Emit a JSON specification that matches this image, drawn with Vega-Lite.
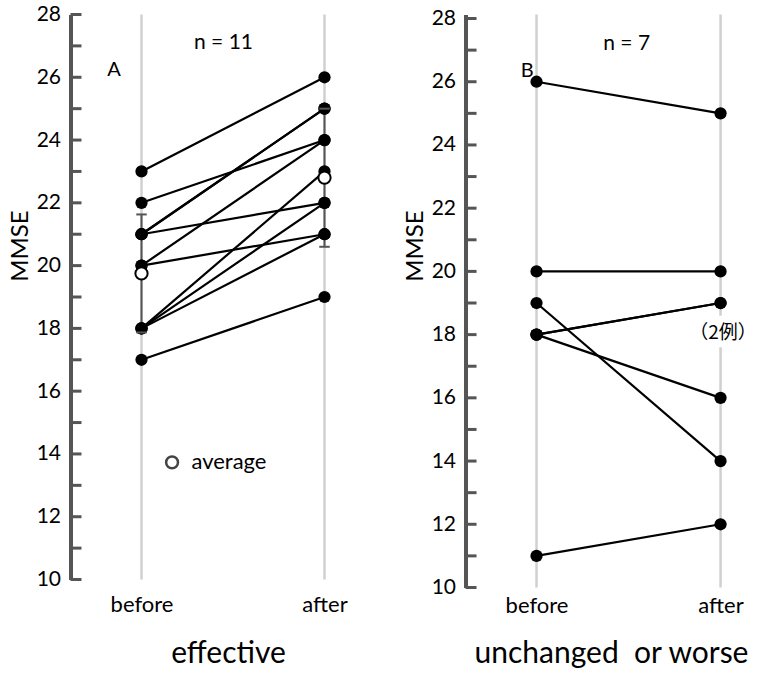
{
  "$schema": "https://vega.github.io/schema/vega-lite/v6.json",
  "autosize": {"type": "pad"},
  "padding": {"left": 8.5, "top": 3.5, "right": 0, "bottom": 0},
  "bounds": "flush",
  "spacing": 71,
  "config": {
    "font": "Lato",
    "view": {"stroke": null},
    "axis": {"labelFont": "Lato", "titleFont": "Lato", "grid": false}
  },
  "datasets": {
    "a": [
      {"id": 1, "t": 0, "v": 23}, {"id": 1, "t": 1, "v": 26},
      {"id": 2, "t": 0, "v": 22}, {"id": 2, "t": 1, "v": 24},
      {"id": 3, "t": 0, "v": 21}, {"id": 3, "t": 1, "v": 25},
      {"id": 4, "t": 0, "v": 21}, {"id": 4, "t": 1, "v": 25},
      {"id": 5, "t": 0, "v": 21}, {"id": 5, "t": 1, "v": 22},
      {"id": 6, "t": 0, "v": 20}, {"id": 6, "t": 1, "v": 24},
      {"id": 7, "t": 0, "v": 20}, {"id": 7, "t": 1, "v": 21},
      {"id": 8, "t": 0, "v": 18}, {"id": 8, "t": 1, "v": 23},
      {"id": 9, "t": 0, "v": 18}, {"id": 9, "t": 1, "v": 22},
      {"id": 10, "t": 0, "v": 18}, {"id": 10, "t": 1, "v": 21},
      {"id": 11, "t": 0, "v": 17}, {"id": 11, "t": 1, "v": 19}
    ],
    "b": [
      {"id": 1, "t": 0, "v": 26}, {"id": 1, "t": 1, "v": 25},
      {"id": 2, "t": 0, "v": 20}, {"id": 2, "t": 1, "v": 20},
      {"id": 3, "t": 0, "v": 19}, {"id": 3, "t": 1, "v": 14},
      {"id": 4, "t": 0, "v": 18}, {"id": 4, "t": 1, "v": 19},
      {"id": 5, "t": 0, "v": 18}, {"id": 5, "t": 1, "v": 19},
      {"id": 6, "t": 0, "v": 18}, {"id": 6, "t": 1, "v": 16},
      {"id": 7, "t": 0, "v": 11}, {"id": 7, "t": 1, "v": 12}
    ],
    "aAvg": [
      {"t": 0, "v": 19.75, "lo": 17.87, "hi": 21.63},
      {"t": 1, "v": 22.8, "lo": 20.6, "hi": 25.0}
    ],
    "ticksAB": [{"t": 0}, {"t": 1}],
    "yt": [
      {"v": 10}, {"v": 11}, {"v": 12}, {"v": 13}, {"v": 14}, {"v": 15}, {"v": 16},
      {"v": 17}, {"v": 18}, {"v": 19}, {"v": 20}, {"v": 21}, {"v": 22}, {"v": 23},
      {"v": 24}, {"v": 25}, {"v": 26}, {"v": 27}, {"v": 28}
    ]
  },
  "hconcat": [
    {
      "width": 324,
      "height": 565,
      "layer": [
        {
          "data": {"name": "ticksAB"},
          "mark": {"type": "rule", "color": "#d0d0d0", "strokeWidth": 2.5},
          "encoding": {
            "x": {
              "field": "t", "type": "quantitative",
              "scale": {"domain": [-0.388, 1.3825], "nice": false, "zero": false},
              "axis": {
                "values": [0, 1],
                "labelExpr": "datum.value === 0 ? 'before' : 'after'",
                "domain": false, "ticks": false, "grid": false,
                "labelFontSize": 22, "labelPadding": 15, "labelColor": "#000",
                "title": "effective", "titleFontSize": 30, "titleFontWeight": "normal",
                "titleColor": "#000", "titleX": 157.5, "titleY": 83,
                "titleBaseline": "alphabetic", "titleAlign": "center"
              }
            }
          }
        },
        {
          "data": {"name": "yt"},
          "mark": {"type": "rule", "color": "#555", "strokeWidth": 3},
          "encoding": {
            "x": {"datum": -0.388, "type": "quantitative"},
            "x2": {"datum": -0.328},
            "y": {"field": "v", "type": "quantitative"}
          }
        },
        {
          "data": {"name": "aAvg"},
          "mark": {"type": "rule", "color": "#555", "strokeWidth": 2},
          "encoding": {
            "x": {"field": "t", "type": "quantitative"},
            "y": {"field": "lo", "type": "quantitative"},
            "y2": {"field": "hi"}
          }
        },
        {
          "data": {"name": "a"},
          "mark": {"type": "line", "color": "#000", "strokeWidth": 2.2},
          "encoding": {
            "x": {"field": "t", "type": "quantitative"},
            "y": {
              "field": "v", "type": "quantitative",
              "scale": {"domain": [10, 28], "nice": false, "zero": false},
              "axis": {
                "values": [10,11,12,13,14,15,16,17,18,19,20,21,22,23,24,25,26,27,28],
                "labelExpr": "datum.value % 2 === 0 ? datum.label : ''",
                "labelOverlap": false, "grid": false, "ticks": false,
                "domainColor": "#555", "domainWidth": 4,
                "labelPadding": 10, "labelFontSize": 21, "labelColor": "#000",
                "title": "MMSE", "titleFontSize": 24, "titleFontWeight": "normal",
                "titleColor": "#000", "titleX": -50, "titleY": 231,
                "titleBaseline": "middle", "titleAlign": "center"
              }
            },
            "detail": {"field": "id", "type": "nominal"}
          }
        },
        {
          "data": {"name": "a"},
          "mark": {"type": "point", "filled": true, "color": "#000", "size": 150, "opacity": 1},
          "encoding": {
            "x": {"field": "t", "type": "quantitative"},
            "y": {"field": "v", "type": "quantitative"}
          }
        },
        {
          "data": {"name": "aAvg"},
          "mark": {"type": "point", "filled": true, "fill": "#fff", "stroke": "#000", "strokeWidth": 2, "size": 150, "opacity": 1},
          "encoding": {
            "x": {"field": "t", "type": "quantitative"},
            "y": {"field": "v", "type": "quantitative"}
          }
        },
        {
          "data": {"name": "aAvg"},
          "mark": {"type": "point", "shape": "stroke", "filled": false, "stroke": "#555", "strokeWidth": 2, "size": 110, "opacity": 1},
          "encoding": {
            "x": {"field": "t", "type": "quantitative"},
            "y": {"field": "hi", "type": "quantitative"}
          }
        },
        {
          "data": {"name": "aAvg"},
          "mark": {"type": "point", "shape": "stroke", "filled": false, "stroke": "#555", "strokeWidth": 2, "size": 110, "opacity": 1},
          "encoding": {
            "x": {"field": "t", "type": "quantitative"},
            "y": {"field": "lo", "type": "quantitative"}
          }
        },
        {
          "data": {"values": [{"t": 0.167, "v": 13.73}]},
          "mark": {"type": "point", "filled": true, "fill": "#fff", "stroke": "#444", "strokeWidth": 2.5, "size": 140, "opacity": 1},
          "encoding": {
            "x": {"field": "t", "type": "quantitative"},
            "y": {"field": "v", "type": "quantitative"}
          }
        },
        {
          "data": {"values": [{"t": 0.273, "v": 13.73, "label": "average"}]},
          "mark": {"type": "text", "align": "left", "baseline": "middle", "fontSize": 22, "color": "#000"},
          "encoding": {
            "x": {"field": "t", "type": "quantitative"},
            "y": {"field": "v", "type": "quantitative"},
            "text": {"field": "label"}
          }
        },
        {
          "data": {"values": [{"t": 0.448, "v": 27.09, "label": "n = 11"}]},
          "mark": {"type": "text", "align": "center", "baseline": "middle", "fontSize": 21, "color": "#000"},
          "encoding": {
            "x": {"field": "t", "type": "quantitative"},
            "y": {"field": "v", "type": "quantitative"},
            "text": {"field": "label"}
          }
        },
        {
          "data": {"values": [{"t": -0.15, "v": 26.23, "label": "A"}]},
          "mark": {"type": "text", "align": "center", "baseline": "middle", "fontSize": 20, "color": "#000"},
          "encoding": {
            "x": {"field": "t", "type": "quantitative"},
            "y": {"field": "v", "type": "quantitative"},
            "text": {"field": "label"}
          }
        }
      ]
    },
    {
      "width": 297,
      "height": 573,
      "layer": [
        {
          "data": {"name": "ticksAB"},
          "mark": {"type": "rule", "color": "#d0d0d0", "strokeWidth": 2.5},
          "encoding": {
            "x": {
              "field": "t", "type": "quantitative",
              "scale": {"domain": [-0.386, 1.228], "nice": false, "zero": false},
              "axis": {
                "values": [0, 1],
                "labelExpr": "datum.value === 0 ? 'before' : 'after'",
                "domain": false, "ticks": false, "grid": false,
                "labelFontSize": 22, "labelPadding": 8, "labelColor": "#000",
                "title": "unchanged\u00a0 or worse", "titleFontSize": 30, "titleFontWeight": "normal",
                "titleColor": "#000", "titleX": 145.5, "titleY": 75,
                "titleBaseline": "alphabetic", "titleAlign": "center"
              }
            }
          }
        },
        {
          "data": {"name": "yt"},
          "mark": {"type": "rule", "color": "#555", "strokeWidth": 3},
          "encoding": {
            "x": {"datum": -0.386, "type": "quantitative"},
            "x2": {"datum": -0.326},
            "y": {"field": "v", "type": "quantitative"}
          }
        },
        {
          "data": {"values": [{"t": 0.97, "t2": 1.03, "v": 18.6, "v2": 17.6}]},
          "mark": {"type": "rect", "color": "#fff"},
          "encoding": {
            "x": {"field": "t", "type": "quantitative"},
            "x2": {"field": "t2"},
            "y": {"field": "v", "type": "quantitative"},
            "y2": {"field": "v2"}
          }
        },
        {
          "data": {"name": "b"},
          "mark": {"type": "line", "color": "#000", "strokeWidth": 2.2},
          "encoding": {
            "x": {"field": "t", "type": "quantitative"},
            "y": {
              "field": "v", "type": "quantitative",
              "scale": {"domain": [10, 28.127], "nice": false, "zero": false},
              "axis": {
                "values": [10,11,12,13,14,15,16,17,18,19,20,21,22,23,24,25,26,27,28],
                "labelExpr": "datum.value % 2 === 0 ? datum.label : ''",
                "labelOverlap": false, "grid": false, "ticks": false,
                "domainColor": "#555", "domainWidth": 4,
                "labelPadding": 10, "labelFontSize": 21, "labelColor": "#000",
                "title": "MMSE", "titleFontSize": 24, "titleFontWeight": "normal",
                "titleColor": "#000", "titleX": -50, "titleY": 231,
                "titleBaseline": "middle", "titleAlign": "center"
              }
            },
            "detail": {"field": "id", "type": "nominal"}
          }
        },
        {
          "data": {"name": "b"},
          "mark": {"type": "point", "filled": true, "color": "#000", "size": 150, "opacity": 1},
          "encoding": {
            "x": {"field": "t", "type": "quantitative"},
            "y": {"field": "v", "type": "quantitative"}
          }
        },
        {
          "data": {"values": [{"t": 0.49, "v": 27.2, "label": "n = 7"}]},
          "mark": {"type": "text", "align": "center", "baseline": "middle", "fontSize": 21, "color": "#000"},
          "encoding": {
            "x": {"field": "t", "type": "quantitative"},
            "y": {"field": "v", "type": "quantitative"},
            "text": {"field": "label"}
          }
        },
        {
          "data": {"values": [{"t": -0.05, "v": 26.35, "label": "B"}]},
          "mark": {"type": "text", "align": "center", "baseline": "middle", "fontSize": 20, "color": "#000"},
          "encoding": {
            "x": {"field": "t", "type": "quantitative"},
            "y": {"field": "v", "type": "quantitative"},
            "text": {"field": "label"}
          }
        },
        {
          "data": {"values": [{"t": 0.83, "v": 18.06, "label": "（2例）"}]},
          "mark": {"type": "text", "align": "left", "baseline": "middle", "fontSize": 19, "font": "Noto Sans CJK JP", "color": "#000"},
          "encoding": {
            "x": {"field": "t", "type": "quantitative"},
            "y": {"field": "v", "type": "quantitative"},
            "text": {"field": "label"}
          }
        }
      ]
    }
  ]
}
